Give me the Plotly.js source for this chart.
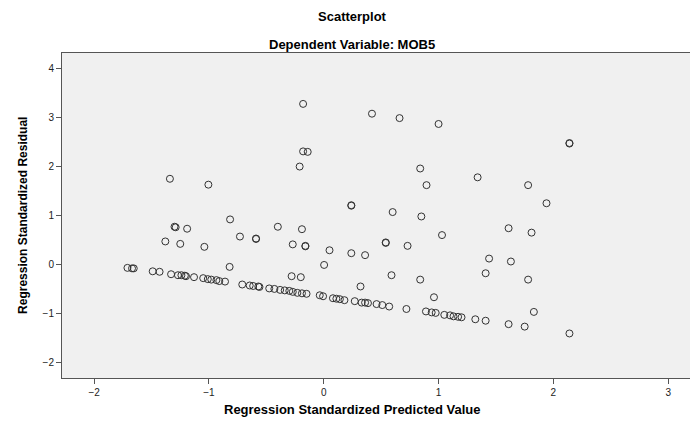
<!DOCTYPE html>
<html>
<head>
<meta charset="utf-8">
<script src="https://cdn.plot.ly/plotly-3.0.1.min.js"></script>
<style>html,body{margin:0;padding:0;background:#fff;}#chart{width:693px;height:421px;}</style>
</head>
<body>
<div id="chart"></div>
<script>
// Regression standardized predicted values (x) and residuals (y)
const predicted = [
  -1.71,-1.67,-1.655,-1.49,-1.43,-1.33,-1.27,-1.24,-1.21,-1.20,-1.13,
  -1.05,-1.01,-0.98,-0.935,-0.91,-0.86,-0.71,-0.645,-0.615,-0.57,-0.56,
  -0.475,-0.43,-0.38,-0.34,-0.30,-0.27,-0.23,-0.19,-0.15,-0.035,-0.006,
  0.08,0.11,0.14,0.18,0.27,0.33,0.36,0.385,0.46,0.51,0.57,0.72,
  0.89,0.94,0.975,1.05,1.10,1.13,1.17,1.20,1.32,1.41,1.61,1.75,2.14,
  -0.18,0.42,0.66,1.00,2.14,2.14,-0.18,-0.14,-0.21,0.84,
  -1.34,1.34,-1.005,0.895,1.78,1.94,0.24,0.24,0.60,0.85,
  -0.816,-1.30,-1.29,-1.19,-0.40,-0.19,1.61,1.81,1.03,
  -0.73,-0.59,-0.59,-1.38,-1.25,-1.04,-0.27,-0.16,-0.16,0.05,0.24,0.36,0.54,0.54,0.73,
  1.44,1.63,0.003,-0.82,-0.28,-0.20,0.59,1.41,0.84,1.78,0.32,0.96,1.83
];
const residual = [
  -0.07,-0.08,-0.08,-0.14,-0.15,-0.20,-0.22,-0.22,-0.23,-0.24,-0.26,
  -0.28,-0.30,-0.31,-0.32,-0.34,-0.35,-0.41,-0.43,-0.44,-0.45,-0.46,
  -0.49,-0.50,-0.52,-0.53,-0.54,-0.56,-0.58,-0.59,-0.60,-0.63,-0.65,
  -0.69,-0.70,-0.71,-0.73,-0.75,-0.78,-0.78,-0.79,-0.81,-0.83,-0.86,-0.91,
  -0.96,-0.98,-0.99,-1.03,-1.04,-1.06,-1.07,-1.08,-1.12,-1.15,-1.22,-1.27,-1.41,
  3.28,3.08,2.99,2.87,2.47,2.48,2.31,2.30,2.00,1.96,
  1.75,1.78,1.63,1.62,1.62,1.25,1.20,1.21,1.07,0.98,
  0.92,0.77,0.76,0.73,0.77,0.72,0.74,0.65,0.60,
  0.57,0.53,0.52,0.47,0.42,0.36,0.41,0.37,0.38,0.29,0.23,0.19,0.44,0.45,0.38,
  0.12,0.06,-0.01,-0.05,-0.24,-0.26,-0.22,-0.18,-0.31,-0.31,-0.45,-0.67,-0.97
];
const xTicks = [-2,-1,0,1,2,3];
const yTicks = [-2,-1,0,1,2,3,4];
const chartTitle = "Scatterplot";
const chartSubtitle = "Dependent Variable: MOB5";
const xTitle = "Regression Standardized Predicted Value";
const yTitle = "Regression Standardized Residual";

const FONT = "Liberation Sans, Arial, sans-serif";
const trace = {
  x: predicted, y: residual, type: "scatter", mode: "markers",
  marker: {symbol: "circle-open", size: 7, color: "#333", line: {width: 1, color: "#333"}},
  hoverinfo: "x+y"
};
const axisCommon = {
  showgrid: false, zeroline: false, showline: true, linecolor: "#555", linewidth: 1,
  ticks: "outside", ticklen: 5, tickcolor: "#555", tickfont: {family: FONT, size: 10, color: "#222"}
};
const layout = {
  width: 693, height: 421,
  margin: {l: 62, r: 3, t: 53, b: 43},
  paper_bgcolor: "#ffffff", plot_bgcolor: "#f0f0f0",
  showlegend: false,
  font: {family: FONT},
  xaxis: Object.assign({}, axisCommon, {range: [-2.28, 3.19], tickvals: xTicks, mirror: true}),
  yaxis: Object.assign({}, axisCommon, {range: [-2.32, 4.32], tickvals: yTicks}),
  annotations: [
    {text: "<b>" + chartTitle + "</b>", xref: "paper", yref: "paper", x: 0.462, y: 1.111, showarrow: false, xanchor: "center", yanchor: "middle", font: {family: FONT, size: 13, color: "#000"}},
    {text: "<b>" + chartSubtitle + "</b>", xref: "paper", yref: "paper", x: 0.462, y: 1.025, showarrow: false, xanchor: "center", yanchor: "middle", font: {family: FONT, size: 13, color: "#000"}},
    {text: "<b>" + xTitle + "</b>", xref: "paper", yref: "paper", x: 0.462, y: -0.098, showarrow: false, xanchor: "center", yanchor: "middle", font: {family: FONT, size: 13, color: "#000"}},
    {text: "<b>" + yTitle + "</b>", xref: "paper", yref: "paper", x: -0.063, y: 0.5, textangle: -90, showarrow: false, xanchor: "center", yanchor: "middle", font: {family: FONT, size: 12, color: "#000"}}
  ]
};
Plotly.newPlot("chart", [trace], layout, {displayModeBar: false, staticPlot: true});
</script>
</body>
</html>
